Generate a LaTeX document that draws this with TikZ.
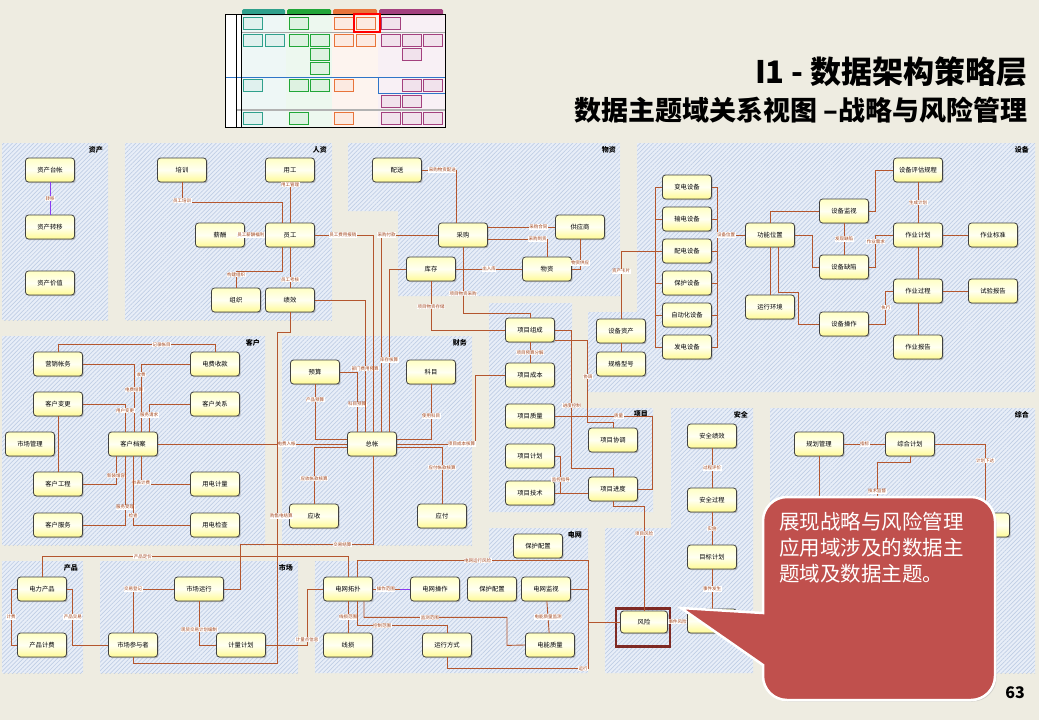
\documentclass[tikz,border=0pt]{standalone}
\usepackage{fontspec}
\setmainfont{Noto Sans CJK SC}
\usetikzlibrary{patterns.meta, shadows, calc}
\definecolor{PageTan}{HTML}{EEECE1}
\definecolor{PanelBlue}{HTML}{E8EEF8}
\definecolor{HatchBlue}{HTML}{C0CEE5}
\definecolor{LinkBrown}{HTML}{B4562E}
\definecolor{LabelBrown}{HTML}{A0431A}
\definecolor{LinkPurple}{HTML}{8A3CF0}
\definecolor{EntityEdge}{HTML}{404040}
\definecolor{EntityTop}{HTML}{FFFFC4}
\definecolor{EntityMid}{HTML}{FFFFF2}
\definecolor{EntityBottom}{HTML}{FFFA94}
\definecolor{CalloutRed}{HTML}{C0504D}
\definecolor{RiskFrame}{HTML}{7F2A24}
\definecolor{ThumbTeal}{HTML}{2FA08C}
\definecolor{ThumbGreen}{HTML}{21A638}
\definecolor{ThumbOrange}{HTML}{E8743A}
\definecolor{ThumbPurple}{HTML}{A3407E}
\definecolor{ThumbBlue}{HTML}{2E75C8}
\tikzset{
    panel/.style={
        preaction={fill=PanelBlue},
        pattern={Lines[angle=45, distance=3pt, line width=0.7pt]},
        pattern color=HatchBlue
    },
    paneltitle/.style={
        anchor=north east,
        inner sep=0pt,
        font=\fontsize{7}{8}\selectfont\bfseries
    },
    entity/.style={
        rounded corners=3pt,
        draw=EntityEdge,
        line width=0.8pt,
        top color=EntityTop,
        bottom color=EntityBottom,
        middle color=EntityMid,
        minimum width=49pt,
        minimum height=24pt,
        inner sep=1pt,
        font=\fontsize{6.3}{7}\selectfont,
        drop shadow={shadow xshift=1.2pt, shadow yshift=-1.2pt, fill=black!45}
    },
    link/.style={
        draw=LinkBrown,
        line width=0.9pt
    },
    purplelink/.style={
        draw=LinkPurple,
        line width=0.9pt
    },
    lbl/.style={
        font=\fontsize{4.5}{5}\selectfont,
        text=LabelBrown,
        fill=white,
        inner sep=0.5pt
    },
    thumbdoc/.style={
        draw=#1,
        fill=#1!15,
        line width=0.6pt
    },
    callout/.style={
        fill=CalloutRed,
        draw=white,
        line width=2.5pt,
        drop shadow={shadow xshift=1.5pt, shadow yshift=-1.5pt, fill=black!30}
    }
}

\begin{document}
\begin{tikzpicture}[x=1pt, y=-1pt]
    \useasboundingbox (0,0) rectangle (1039,720);
    \fill[PageTan] (0,0) rectangle (1039,720);

    % Thumbnail of the layer map
    \fill[white] (225,14) rectangle (445,127);
    \fill[ThumbTeal!8] (241,14) rectangle (286,127);
    \fill[ThumbGreen!8] (286,14) rectangle (332,127);
    \fill[ThumbOrange!8] (332,14) rectangle (378,127);
    \fill[ThumbPurple!8] (378,14) rectangle (445,127);
    \fill[ThumbTeal, rounded corners=1.5pt] (242,9) rectangle (285,15);
    \fill[ThumbGreen, rounded corners=1.5pt] (287,9) rectangle (331,15);
    \fill[ThumbOrange, rounded corners=1.5pt] (333,9) rectangle (377,15);
    \fill[ThumbPurple, rounded corners=1.5pt] (379,9) rectangle (443,15);
    \draw[gray!70, line width=1pt] (241,32) -- (445,32);
    \draw[gray!60, line width=1.5pt] (236,110) -- (445,110);
    \draw[ThumbBlue, line width=0.8pt] (225,77) -- (378,77);
    \draw[ThumbBlue, line width=0.8pt] (378,77) rectangle (445,93);
    \draw[line width=1pt] (225,14) rectangle (445,127);
    \draw[line width=0.8pt] (236,14) -- (236,127);
    \draw[line width=0.8pt] (241,14) -- (241,127);
    \foreach \tx/\ty/\tc in {243/17/ThumbTeal, 289/17/ThumbGreen, 334/17/ThumbOrange, 356/17/ThumbOrange, 381/17/ThumbPurple,
        243/34/ThumbTeal, 265/34/ThumbTeal, 289/34/ThumbGreen, 310/34/ThumbGreen, 334/34/ThumbOrange, 356/34/ThumbOrange,
        381/34/ThumbPurple, 402/34/ThumbPurple, 423/34/ThumbPurple, 310/48/ThumbGreen, 402/48/ThumbPurple, 310/62/ThumbGreen,
        243/79/ThumbTeal, 289/79/ThumbGreen, 310/79/ThumbGreen, 334/79/ThumbOrange, 402/79/ThumbPurple, 423/79/ThumbPurple,
        381/95/ThumbPurple, 402/95/ThumbPurple,
        243/112/ThumbTeal, 289/112/ThumbGreen, 334/112/ThumbOrange, 381/112/ThumbPurple, 402/112/ThumbPurple, 423/112/ThumbPurple}
        \draw[thumbdoc=\tc] (\tx,\ty) rectangle ++(19,12);
    \draw[red, line width=2pt] (354,14) rectangle (380,32);

    % Title
    \node[anchor=east, inner sep=0pt, font=\fontsize{31}{31}\selectfont\bfseries] (title) at (1028,72) {I1 - 数据架构策略层};
    \node[anchor=east, inner sep=0pt, font=\fontsize{27}{27}\selectfont\bfseries] (subtitle) at (1028,110) {数据主题域关系视图 –战略与风险管理};

    % Subject area panels
    \path[panel] (2,143) rectangle (108,320);
    \path[panel] (125,143) rectangle (332,320);
    \path[panel] (348,143) -- (620,143) -- (620,296) -- (398,296) -- (398,211) -- (348,211) -- cycle;
    \path[panel] (637,143) -- (1035,143) -- (1035,392) -- (588,392) -- (588,312) -- (637,312) -- cycle;
    \path[panel] (2,336) rectangle (265,545);
    \path[panel] (282,336) rectangle (472,545);
    \path[panel] (489,303) -- (572,303) -- (572,408) -- (653,408) -- (653,512) -- (489,512) -- cycle;
    \path[panel] (671,408) -- (753,408) -- (753,673) -- (605,673) -- (605,528) -- (671,528) -- cycle;
    \path[panel] (770,408) rectangle (1035,673);
    \path[panel] (2,561) rectangle (83,673);
    \path[panel] (100,561) rectangle (298,673);
    \path[panel] (315,561) -- (489,561) -- (489,528) -- (588,528) -- (588,673) -- (315,673) -- cycle;

    \node[paneltitle] at (103,146) {资产};
    \node[paneltitle] at (327,146) {人资};
    \node[paneltitle] at (616,146) {物资};
    \node[paneltitle] at (1029,146) {设备};
    \node[paneltitle] at (260,339) {客户};
    \node[paneltitle] at (467,339) {财务};
    \node[paneltitle] at (648,411) {项目};
    \node[paneltitle] at (748,411) {安全};
    \node[paneltitle] at (1029,411) {综合};
    \node[paneltitle] at (78,564) {产品};
    \node[paneltitle] at (293,564) {市场};
    \node[paneltitle] at (582,531) {电网};

    % Asset
    \node[entity] (zctz) at (50,170) {资产台帐};
    \node[entity] (zczy) at (50,227) {资产转移};
    \node[entity] (zcjz) at (50,283) {资产价值};

    % Human resources
    \node[entity] (px) at (182,170) {培训};
    \node[entity] (xc) at (220,235) {薪酬};
    \node[entity] (zz) at (236,300) {组织};
    \node[entity] (yg) at (290,170) {用工};
    \node[entity] (yuang) at (290,235) {员工};
    \node[entity] (jx) at (290,300) {绩效};

    % Materials
    \node[entity] (ps) at (397,170) {配送};
    \node[entity] (cg) at (463,235) {采购};
    \node[entity] (kc) at (431,269) {库存};
    \node[entity] (gys) at (580,227) {供应商};
    \node[entity] (wz) at (547,269) {物资};

    % Equipment
    \node[entity] (bd) at (687,187) {变电设备};
    \node[entity] (sd) at (687,219) {输电设备};
    \node[entity] (pd) at (687,251) {配电设备};
    \node[entity] (bh) at (687,283) {保护设备};
    \node[entity] (zdh) at (687,315) {自动化设备};
    \node[entity] (fd) at (687,347) {发电设备};
    \node[entity] (sbzc) at (621,331) {设备资产};
    \node[entity] (ggxh) at (621,364) {规格型号};
    \node[entity] (gnwz) at (770,235) {功能位置};
    \node[entity] (yxhj) at (770,307) {运行环境};
    \node[entity] (sbjs) at (844,211) {设备监视};
    \node[entity] (sbqx) at (844,267) {设备缺陷};
    \node[entity] (sbcz) at (844,324) {设备操作};
    \node[entity] (sbpg) at (918,170) {设备评估规程};
    \node[entity] (zyjh) at (918,235) {作业计划};
    \node[entity] (zybz) at (993,235) {作业标准};
    \node[entity] (zygc) at (918,291) {作业过程};
    \node[entity] (sybg) at (993,291) {试验报告};
    \node[entity] (zybg) at (918,347) {作业报告};

    % Customer
    \node[entity] (yxzw) at (58,364) {营销帐务};
    \node[entity] (dfsk) at (215,364) {电费收款};
    \node[entity] (khbg) at (58,404) {客户变更};
    \node[entity] (khgx) at (215,404) {客户关系};
    \node[entity] (scgl) at (30,444) {市场管理};
    \node[entity] (khda) at (133,444) {客户档案};
    \node[entity] (khgc) at (58,484) {客户工程};
    \node[entity] (ydjl) at (215,484) {用电计量};
    \node[entity] (khfw) at (58,525) {客户服务};
    \node[entity] (ydjc) at (215,525) {用电检查};

    % Finance
    \node[entity] (ys) at (315,372) {预算};
    \node[entity] (km) at (431,372) {科目};
    \node[entity] (zzh) at (372,444) {总帐};
    \node[entity] (yingshou) at (314,516) {应收};
    \node[entity] (yingfu) at (442,516) {应付};

    % Project
    \node[entity] (xmzc) at (530,330) {项目组成};
    \node[entity] (xmcb) at (530,375) {项目成本};
    \node[entity] (xmzl) at (530,416) {项目质量};
    \node[entity] (xmjh) at (530,456) {项目计划};
    \node[entity] (xmjs) at (530,493) {项目技术};
    \node[entity] (xmxt) at (613,440) {项目协调};
    \node[entity] (xmjd) at (613,489) {项目进度};

    % Safety and risk
    \node[entity] (aqjx) at (712,436) {安全绩效};
    \node[entity] (aqgc) at (712,500) {安全过程};
    \node[entity] (mbjh) at (712,557) {目标计划};
    \node[entity] (aqsj) at (712,621) {};
    \node[entity, minimum width=47pt, minimum height=22pt] (fx) at (644,622) {风险};
    \draw[RiskFrame, line width=2.5pt] ([xshift=-4pt, yshift=2pt]fx.north west) rectangle ([xshift=2pt, yshift=-13pt]fx.south east);

    % General planning
    \node[entity] (ghgl) at (819,444) {规划管理};
    \node[entity] (zhjh) at (910,444) {综合计划};
    \node[entity] (zhx) at (985,525) {};
    \coordinate (ghend) at (819,520);
    \coordinate (jdend) at (877,520);

    % Product and market
    \node[entity] (dlcp) at (42,589) {电力产品};
    \node[entity] (cpjf) at (42,645) {产品计费};
    \node[entity] (scyx) at (199,589) {市场运行};
    \node[entity] (sccy) at (133,645) {市场参与者};
    \node[entity] (jljh) at (241,645) {计量计划};

    % Grid
    \node[entity] (bhpzt) at (538,546) {保护配置};
    \node[entity] (dwtp) at (348,589) {电网拓扑};
    \node[entity] (dwcz) at (435,589) {电网操作};
    \node[entity] (bhpz) at (492,589) {保护配置};
    \node[entity] (dwjs) at (546,589) {电网监视};
    \node[entity] (xs) at (348,645) {线损};
    \node[entity] (yxfs) at (447,645) {运行方式};
    \node[entity] (dnzl) at (550,645) {电能质量};

    % Asset and HR links
    \draw[purplelink] (zctz) -- node[lbl]{转移} (zczy);
    \draw[link] (px.south) -- ++(0,20) node[lbl, pos=0.9]{员工培训} -| ([xshift=-8pt]yuang.north);
    \draw[link] (xc) -- node[lbl, pos=0.3]{员工薪酬福利} (yuang);
    \draw[link] (zz.north) -- ++(0,-16) node[lbl, pos=0.8]{构建组织} -| ([xshift=-8pt]yuang.south);
    \draw[link] (yg) -- node[lbl, pos=0.05]{用工管理} (yuang);
    \draw[link] (yuang) -- node[lbl, pos=0.8]{员工考核} (jx);

    % Materials links
    \draw[link] (ps.east) -| node[lbl, pos=0.3]{采购物资配送} ([xshift=-7pt]cg.north);
    \draw[link] (gys.west -| cg.east) -- node[lbl, pos=0.75]{采购合同} (gys.west);
    \draw[link] ([yshift=-4pt]cg.east) -| node[lbl, pos=0.42]{采购到货} (wz.north);
    \draw[link] (gys.south) |- node[lbl, pos=0.4]{物资供应} (wz.east);
    \draw[link] (kc) -- node[lbl]{出入库} (wz);
    \draw[link] (cg.south) -- ++(0,66) node[lbl, pos=0.7]{项目物资采购} -| (xmzc.north);
    \draw[link] (kc.south) |- node[lbl, pos=0.26]{项目物资存储} (xmzc.west);

    % Links into the ledger
    \draw[link] (ys.east) -| node[lbl, pos=0.77]{科目预算} ([xshift=-15pt]zzh.north);
    \draw[link] (jx.east) -| node[lbl, pos=0.76]{部门费用预算} ([xshift=-7pt]zzh.north);
    \draw[link] (yuang.east) -| node[lbl, pos=0.24]{员工费用报销} ([xshift=1pt]zzh.north);
    \draw[link] (cg.west) -| node[lbl, pos=0.45]{采购付款} ([xshift=9pt]zzh.north);
    \draw[link] (kc.west) -| node[lbl, pos=0.78]{库存核算} ([xshift=17pt]zzh.north);
    \draw[link] (ys.south) |- node[lbl, pos=0.14]{产品预算} ([yshift=5pt]zzh.west);
    \draw[link] (km.south) |- node[lbl, pos=0.29]{使用科目} ([yshift=5pt]zzh.east);
    \draw[link] (khda) -- node[lbl, pos=0.68]{电费入帐} (zzh);
    \draw[link] (zzh.east) -- node[lbl, pos=0.82]{项目成本核算} ++(79,0) |- (xmcb.west);
    \draw[link] ([yshift=-3pt]zzh.west) -| node[lbl, pos=0.78]{应收帐款核算} (yingshou.north);
    \draw[link] ([yshift=-3pt]zzh.east) -| node[lbl, pos=0.68]{应付帐款核算} (yingfu.north);
    \draw[link] ([xshift=1pt]zzh.south) -- ++(0,88) -- node[lbl, pos=0.23]{交易结算} ++(-133,0) |- (scyx.east);
    \draw[link] (jx.south) -- ++(0,20) -| ++(-13,331) -| (sccy.south);
    \draw[link] (yingshou.west) -- ++(-13,0) node[lbl, pos=0.6]{购售电结算};

    % Equipment links
    \coordinate (lbus) at ([xshift=-7pt]bd.west);
    \coordinate (rbus) at ([xshift=6pt]bd.east);
    \draw[link] (lbus) -- (lbus |- fd.west);
    \draw[link] (rbus) -- (rbus |- fd.east);
    \foreach \dev in {bd,sd,pd,bh,zdh,fd}{
        \draw[link] (\dev.west) -- (\dev.west -| lbus);
        \draw[link] (\dev.east) -- (\dev.east -| rbus);
    }
    \draw[link] (sbzc.north) |- node[lbl, pos=0.35]{资产卡片} (pd.west);
    \draw[link] (sbzc) -- (ggxh);
    \draw[link] (gnwz.west -| rbus) -- node[lbl, pos=0.3]{设备位置} (gnwz.west);
    \draw[link] (gnwz.north) |- (sbjs.west);
    \draw[link] (gnwz.east) -- ++(18,0) |- (sbqx.west);
    \draw[link] (gnwz) -- (yxhj);
    \draw[link] ([xshift=8pt]gnwz.south) -- ++(0,45) -- ++(20,0) |- (sbcz.west);
    \draw[link] (sbjs.east) -- ++(7,0) |- (sbpg.west);
    \draw[link] (sbjs) -- node[lbl]{发现缺陷} (sbqx);
    \draw[link] (sbpg) -- node[lbl]{生成计划} (zyjh);
    \draw[link] (zyjh) -- (zybz);
    \draw[link] (sbqx.east) -- ++(7,0) |- node[lbl, pos=0.4]{作业需求} (zyjh.west);
    \draw[link] (zyjh) -- (zygc);
    \draw[link] (zygc) -- (sybg);
    \draw[link] (sbcz.east) -- ++(17,0) |- node[lbl, pos=0.25]{执行} (zygc.west);
    \draw[link] (zygc) -- (zybg);

    % Customer links
    \draw[link] (yxzw.north) -- ++(0,-7) -| node[lbl, pos=0.33]{记录帐目} (dfsk.north);
    \draw[link] (yxzw.east) -| node[lbl, pos=0.69]{电费结算} ([xshift=1pt]khda.north);
    \draw[link] (dfsk.west) -| node[lbl, pos=0.58]{收费} ([xshift=8pt]khda.north);
    \draw[link] (khbg.east) -| node[lbl, pos=0.62]{用户变更} ([xshift=-8pt]khda.north);
    \draw[link] (khgx.west) -| node[lbl, pos=0.7]{服务请求} ([xshift=16pt]khda.north);
    \draw[link] (khbg) -- (khgc);
    \draw[link] (khgc.east) -| node[lbl, pos=0.65]{新装增容} ([xshift=-17pt]khda.south);
    \draw[link] (ydjl.west) -| node[lbl, pos=0.52]{抄表计费} ([xshift=8pt]khda.south);
    \draw[link] (khfw.east) -| node[lbl, pos=0.63]{服务受理} ([xshift=-8pt]khda.south);
    \draw[link] (ydjc.west) -| node[lbl, pos=0.57]{检查} (khda.south);

    % Project links
    \draw[link] (xmzc) -- node[lbl]{项目预算分解} (xmcb);
    \draw[link] (xmzc.east) -- ++(17,0) -- node[lbl, pos=0.55]{进度控制} ++(0,138) -| (xmjd.north);
    \draw[link] ([yshift=-10pt]xmzc.east) -- ++(33,0) -- node[lbl, pos=0.45]{协调} ++(0,82) -| (xmxt.north);
    \draw[link] (xmzl.east) -- node[lbl, pos=0.65]{质量} ++(98,0) |- (xmjd.east);
    \draw[link] (xmjh.east) -- ++(6,0) |- node[lbl, pos=0.32]{监控指导} (xmjs.east -| xmjd.west);
    \draw[link] (xmjs.east) -- (xmjs.east -| xmjd.west);
    \draw[link] (xmjd.south) -- ++(0,5) -| node[lbl, pos=0.63]{项目风险} (fx.north);

    % Safety links
    \draw[link] (aqjx) -- node[lbl]{过程评价} (aqgc);
    \draw[link] (aqgc) -- node[lbl]{实施} (mbjh);
    \draw[link] (mbjh) -- node[lbl]{事件发生} (aqsj);
    \draw[link] (fx) -- node[lbl]{事件风险} (aqsj);

    % General planning links
    \draw[link] (ghgl) -- node[lbl]{指标} (zhjh);
    \draw[link] (ghgl.south) -- (ghend);
    \draw[link] (zhjh.south) -- ++(0,6) -| node[lbl, pos=0.75]{技术监督} (jdend);
    \draw[link] (zhjh.east) -| node[lbl, pos=0.62]{计划下达} (zhx.north);

    % Product and market links
    \draw[link] (dlcp.north) -- ++(0,-20) -| node[lbl, pos=0.165]{产品定价} (dwtp.north);
    \draw[link] (dlcp.west) -- ++(-6,0) |- node[lbl, pos=0.25]{计费} (cpjf.west);
    \draw[link] (dlcp.east) -- ++(6,0) |- node[lbl, pos=0.25]{产品交易} (sccy.west);
    \draw[link] (scyx.west) -| node[lbl]{交易登记} (sccy.north);
    \draw[link] (scyx.south) |- node[lbl, pos=0.32]{现货交易计划编制} (jljh.west);
    \draw[link] (dwtp.west) -- ++(-16,0) |- node[lbl, pos=0.45]{计量点信息} (jljh.east);

    % Grid links
    \coordinate (gbus) at ([xshift=18pt]dwjs.east |- fx.west);
    \draw[link] ([xshift=9pt]dwtp.north) -- ++(0,-16) -| node[lbl, pos=0.26]{电网运行风险} (gbus) -- (fx.west);
    \draw[link] (dwtp) -- node[lbl, pos=0.35]{操作范围} (dwcz);
    \draw[purplelink] ([xshift=-10pt]dwcz.west) -- (dwcz.west);
    \draw[link] (dwtp) -- node[lbl]{线损范围} (xs);
    \draw[link] ([xshift=9pt]dwtp.south) -- ++(0,24) -| node[lbl, pos=0.14]{控制范围} (yxfs.north);
    \draw[link] ([xshift=16pt]dwtp.south) -- ++(0,16) -| node[lbl, pos=0.23]{监测范围} ++(143,28) -- (dnzl.west);
    \draw[link] (yxfs.south) -- ++(0,11) -| node[lbl, pos=0.48]{运行} (gbus);
    \draw[link] (dwjs.east) -- (dwjs.east -| gbus);
    \draw[link] (dwjs) -- node[lbl]{电能质量监测} (dnzl);

    % Callout
    \path[callout] (763,580) [rounded corners=24pt] -- (763,497) -- (995,497) -- (995,700) -- (763,700) [sharp corners] -- (763,665) -- (681,608) -- (763,613) -- cycle;
    \node[anchor=north west, text=white, align=left, inner sep=0pt, font=\fontsize{20.5}{26}\selectfont] (callouttext) at (779,512) {展现战略与风险管理\\应用域涉及的数据主\\题域及数据主题。};

    % Page number
    \node[font=\fontsize{16}{16}\selectfont\bfseries] (pagenum) at (1015,693) {63};
\end{tikzpicture}
\end{document}
